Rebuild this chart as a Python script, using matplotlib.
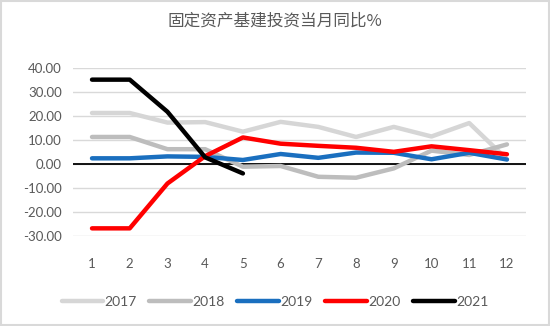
import matplotlib.pyplot as plt
from matplotlib.patches import Rectangle

plt.rcParams['font.family'] = ['Lato', 'Noto Sans CJK SC', 'DejaVu Sans']

# monthly YoY growth of infrastructure investment, %
months = list(range(1, 13))
y2017 = [21.3, 21.3, 17.3, 17.5, 13.5, 17.6, 15.5, 11.3, 15.5, 11.5, 17.1, 2.0]
y2018 = [11.3, 11.3, 6.2, 6.2, -1.1, -0.8, -5.3, -5.7, -1.8, 5.6, 3.8, 8.2]
y2019 = [2.4, 2.4, 3.2, 3.0, 1.7, 4.2, 2.6, 4.8, 4.7, 2.0, 4.7, 1.9]
y2020 = [-26.8, -26.8, -8.1, 3.3, 11.1, 8.5, 7.6, 6.8, 5.1, 7.4, 5.8, 4.1]
y2021 = [35.2, 35.2, 21.8, 2.8, -3.9]

years = ['2017', '2018', '2019', '2020', '2021']
series = [y2017, y2018, y2019, y2020, y2021]
colors = ['#d6d6d6', '#bdbdbd', '#1a6fbf', '#ff0000', '#000000']

fig = plt.figure(figsize=(5.5, 3.26), dpi=100)
ax = fig.add_axes([0.133, 0.276, 0.823, 0.515])

for name, vals, c in zip(years, series, colors):
    ax.plot(months[:len(vals)], vals, color=c, lw=3.2, label=name,
            solid_capstyle='round', solid_joinstyle='round')

ax.set_xlim(0.5, 12.5)
ax.set_ylim(-30, 40)
ax.set_yticks(range(-30, 41, 10))
ax.set_yticklabels([f'{v:.2f}' for v in range(-30, 41, 10)])
ax.set_xticks(months)
ax.grid(axis='y', color='#d9d9d9', lw=1)
ax.set_axisbelow(True)
ax.axhline(0, color='black', lw=1.3, zorder=1.5)
for s in ax.spines.values():
    s.set_visible(False)
ax.tick_params(length=0, colors='#595959', labelsize=9.5)
ax.tick_params(axis='x', pad=16)
ax.tick_params(axis='y', pad=8)

fig.text(0.5, 0.935, '固定资产基建投资当月同比%', ha='center', va='center',
         fontsize=12, color='#595959', family=['Noto Sans CJK SC', 'DejaVu Sans'])

fig.legend(loc='center', bbox_to_anchor=(0.5, 0.075), ncol=5, frameon=False,
           fontsize=10, handlelength=3.0, handletextpad=0.1, columnspacing=0.9,
           labelcolor='#595959')

fig.patches.append(Rectangle((0.002, 0.003), 0.996, 0.994, transform=fig.transFigure,
                             fill=False, edgecolor='#d9d9d9', lw=1.5))

fig.savefig('out.png', dpi=100)
